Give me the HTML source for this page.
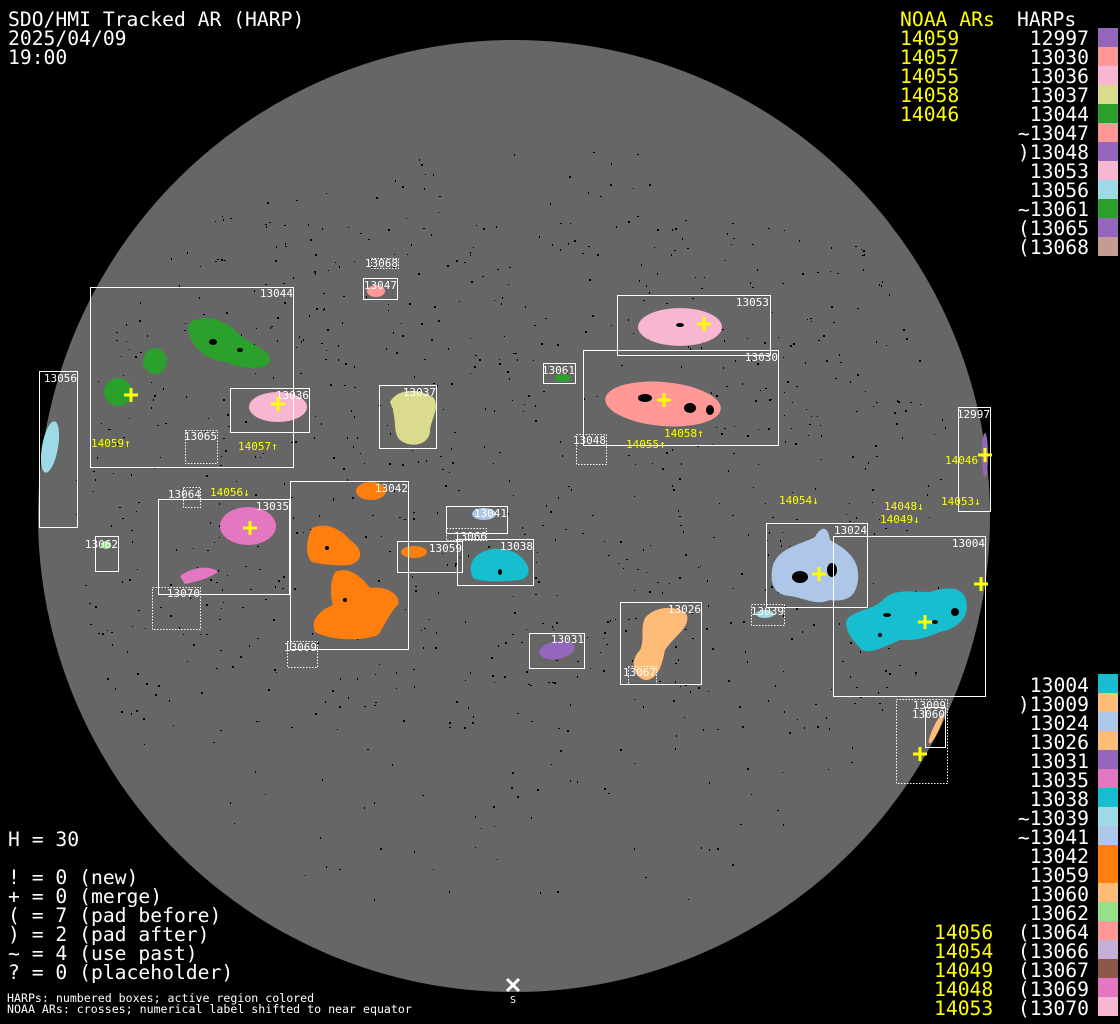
<!DOCTYPE html>
<html><head><meta charset="utf-8">
<style>
html,body{margin:0;padding:0;background:#000;}
body{width:1120px;height:1024px;overflow:hidden;position:relative;}
svg{position:absolute;left:0;top:0;}
.t{font-family:"DejaVu Sans Mono","Liberation Mono",monospace;}
</style></head><body>
<svg width="1120" height="1024" viewBox="0 0 1120 1024" xmlns="http://www.w3.org/2000/svg">
<rect width="1120" height="1024" fill="#000"/>
<circle cx="514" cy="516" r="476" fill="#666"/>
<g id="dots" fill="#000"></g>

<g stroke="none">
<path d="M188,325 C200,312 225,318 240,335 C255,348 272,350 270,362 C262,372 240,368 225,362 C205,360 188,345 188,325Z" fill="#2ca02c"/>
<ellipse cx="155" cy="361" rx="12" ry="13" fill="#2ca02c"/>
<ellipse cx="118" cy="392" rx="14" ry="14" fill="#2ca02c"/>
<ellipse cx="50" cy="447" rx="8" ry="26" fill="#9edae5" transform="rotate(10 50 447)"/>
<ellipse cx="278" cy="407" rx="29" ry="15" fill="#f7b6d2"/>
<path d="M390,402 C398,388 420,388 434,398 C440,410 430,420 430,432 C428,446 410,448 400,440 C392,432 398,420 390,402Z" fill="#dbdb8d"/>
<ellipse cx="376" cy="291" rx="9" ry="6" fill="#ff9896"/>
<ellipse cx="680" cy="327" rx="42" ry="19" fill="#f7b6d2"/>
<ellipse cx="663" cy="404" rx="58" ry="22" fill="#ff9896" transform="rotate(5 663 404)"/>
<ellipse cx="563" cy="378" rx="8" ry="4" fill="#2ca02c"/>
<ellipse cx="985" cy="455" rx="3" ry="22" fill="#9467bd"/>
<ellipse cx="248" cy="526" rx="28" ry="19" fill="#e377c2"/>
<path d="M180,576 C190,568 210,564 218,572 C210,578 196,582 185,584Z" fill="#e377c2"/>
<ellipse cx="371" cy="491" rx="15" ry="9" fill="#ff7f0e"/>
<path d="M312,528 C325,522 340,528 350,540 C362,548 365,560 350,565 C338,566 325,565 312,562 C305,556 306,540 312,528Z" fill="#ff7f0e"/>
<path d="M335,572 C348,566 360,575 370,588 C385,585 402,595 398,605 C390,612 385,625 378,635 C360,642 330,640 315,632 C310,620 320,610 333,605 C330,595 330,582 335,572Z" fill="#ff7f0e"/>
<ellipse cx="414" cy="552" rx="13" ry="6" fill="#ff7f0e"/>
<ellipse cx="484" cy="514" rx="12" ry="6" fill="#aec7e8"/>
<path d="M472,562 C480,545 510,545 522,558 C532,568 530,578 520,580 C500,582 480,582 473,578 C470,572 470,566 472,562Z" fill="#17becf"/>
<path d="M772,570 C775,548 800,545 815,537 C820,527 828,524 830,540 C848,550 860,560 858,580 C856,598 845,602 830,600 C815,606 805,598 790,596 C775,595 770,585 772,570Z" fill="#aec7e8"/>
<path d="M846,622 C850,610 870,612 883,600 C893,588 915,592 930,592 C945,587 962,585 966,600 C970,615 960,628 940,632 C920,640 915,640 900,640 C888,645 870,655 862,650 C852,640 846,632 846,622Z" fill="#17becf"/>
<ellipse cx="765" cy="614" rx="9" ry="4" fill="#9edae5"/>
<path d="M645,618 C655,605 680,605 687,615 C690,628 675,635 665,650 C662,665 658,680 645,680 C632,676 630,660 640,650 C645,640 640,628 645,618Z" fill="#ffbb78"/>
<ellipse cx="557" cy="650" rx="18" ry="9" fill="#9467bd" transform="rotate(-10 557 650)"/>
<ellipse cx="106" cy="545" rx="5" ry="4" fill="#98df8a"/>
<ellipse cx="936" cy="729" rx="3" ry="16" fill="#ffbb78" transform="rotate(25 936 729)"/>
</g>
<g fill="#000">
<ellipse cx="213" cy="342" rx="4" ry="3"/><ellipse cx="240" cy="350" rx="3" ry="2"/>
<ellipse cx="645" cy="398" rx="7" ry="4"/><ellipse cx="690" cy="408" rx="6" ry="5"/><ellipse cx="710" cy="410" rx="4" ry="5"/>
<ellipse cx="680" cy="325" rx="4" ry="2"/>
<ellipse cx="800" cy="577" rx="8" ry="6"/><ellipse cx="832" cy="570" rx="5" ry="7"/>
<ellipse cx="887" cy="615" rx="4" ry="2"/><ellipse cx="955" cy="612" rx="4" ry="4"/><ellipse cx="935" cy="622" rx="3" ry="2"/><ellipse cx="880" cy="635" rx="2" ry="2"/>
<ellipse cx="500" cy="572" rx="2" ry="3"/><ellipse cx="345" cy="600" rx="2" ry="2"/><ellipse cx="327" cy="548" rx="2" ry="2"/>
</g>

<g fill="none" stroke="#fff" stroke-width="1">
<rect x="90.5" y="287.5" width="203" height="180"/>
<rect x="39.5" y="371.5" width="38" height="156"/>
<rect x="230.5" y="388.5" width="79" height="44"/>
<rect x="379.5" y="385.5" width="57" height="63"/>
<rect x="363.5" y="278.5" width="34" height="21"/>
<rect x="617.5" y="295.5" width="153" height="60"/>
<rect x="583.5" y="350.5" width="195" height="95"/>
<rect x="543.5" y="363.5" width="32" height="20"/>
<rect x="958.5" y="407.5" width="32" height="104"/>
<rect x="158.5" y="499.5" width="131" height="95"/>
<rect x="290.5" y="481.5" width="118" height="168"/>
<rect x="446.5" y="506.5" width="61" height="27"/>
<rect x="397.5" y="541.5" width="65" height="31"/>
<rect x="457.5" y="539.5" width="76" height="46"/>
<rect x="766.5" y="523.5" width="101" height="84"/>
<rect x="833.5" y="536.5" width="152" height="160"/>
<rect x="95.5" y="536.5" width="23" height="35"/>
<rect x="620.5" y="602.5" width="81" height="82"/>
<rect x="529.5" y="633.5" width="55" height="35"/>
<rect x="925.5" y="707.5" width="20" height="40"/>
</g>
<g fill="none" stroke="#fff" stroke-width="1" stroke-dasharray="1.5,1.5">
<rect x="185.5" y="430.5" width="32" height="33"/>
<rect x="576.5" y="434.5" width="30" height="30"/>
<rect x="183.5" y="487.5" width="17" height="20"/>
<rect x="152.5" y="587.5" width="48" height="42"/>
<rect x="287.5" y="641.5" width="30" height="26"/>
<rect x="446.5" y="528.5" width="40" height="12"/>
<rect x="751.5" y="604.5" width="33" height="21"/>
<rect x="896.5" y="699.5" width="51" height="84"/>
<rect x="628.5" y="666.5" width="28" height="18"/>
<rect x="371.5" y="258.5" width="27" height="10"/>
</g>
<g class="t" fill="#fff" font-size="11" text-anchor="end">
<text x="293" y="297">13044</text><text x="77" y="382">13056</text><text x="309" y="399">13036</text>
<text x="436" y="396">13037</text><text x="397" y="289">13047</text><text x="398" y="267">13068</text>
<text x="769" y="306">13053</text><text x="778" y="361">13030</text><text x="575" y="374">13061</text>
<text x="990" y="418">12997</text><text x="217" y="440">13065</text><text x="606" y="444">13048</text>
<text x="201" y="498">13064</text><text x="289" y="510">13035</text><text x="408" y="492">13042</text>
<text x="507" y="517">13041</text><text x="487" y="540">13066</text><text x="462" y="552">13059</text>
<text x="533" y="550">13038</text><text x="867" y="534">13024</text><text x="985" y="547">13004</text>
<text x="118" y="548">13062</text><text x="200" y="597">13070</text><text x="317" y="651">13069</text>
<text x="784" y="615">13039</text><text x="701" y="613">13026</text><text x="584" y="643">13031</text>
<text x="656" y="676">13067</text><text x="946" y="709">13009</text><text x="945" y="718">13060</text>
</g>
<g stroke="#ff0" stroke-width="3">
<path d="M124,395h14M131,388v14"/><path d="M271,404h14M278,397v14"/><path d="M243,528h14M250,521v14"/>
<path d="M657,400h14M664,393v14"/><path d="M697,324h14M704,317v14"/><path d="M978,455h14M985,448v14"/>
<path d="M812,574h14M819,567v14"/><path d="M918,622h14M925,615v14"/><path d="M974,584h14M981,577v14"/>
<path d="M913,754h14M920,747v14"/>
</g>
<g class="t" fill="#ff0" font-size="11">
<text x="91" y="447">14059↑</text><text x="238" y="450">14057↑</text><text x="210" y="496">14056↓</text>
<text x="626" y="448">14055↑</text><text x="664" y="437">14058↑</text><text x="779" y="504">14054↓</text>
<text x="884" y="510">14048↓</text><text x="880" y="523">14049↓</text><text x="941" y="505">14053↓</text>
<text x="945" y="464">14046</text>
</g>
<path d="M507,979l12,12M519,979l-12,12" stroke="#fff" stroke-width="3"/>
<text class="t" x="513" y="1003" fill="#fff" font-size="10" text-anchor="middle">S</text>

<g class="t" fill="#fff" font-size="19.7">
<text x="8" y="26">SDO/HMI Tracked AR (HARP)</text>
<text x="8" y="45">2025/04/09</text>
<text x="8" y="64">19:00</text>
<text x="8" y="846">H = 30</text>
<text x="8" y="884">! = 0 (new)</text>
<text x="8" y="903">+ = 0 (merge)</text>
<text x="8" y="922">( = 7 (pad before)</text>
<text x="8" y="941">) = 2 (pad after)</text>
<text x="8" y="960">~ = 4 (use past)</text>
<text x="8" y="979">? = 0 (placeholder)</text>
</g>
<g class="t" fill="#fff" font-size="11.6">
<text x="7" y="1002">HARPs: numbered boxes; active region colored</text>
<text x="7" y="1013">NOAA ARs: crosses; numerical label shifted to near equator</text>
</g>

<g class="t" font-size="19.7">
<text x="900" y="26" fill="#ff0">NOAA ARs</text>
<text x="1017" y="26" fill="#fff">HARPs</text>
<g fill="#ff0">
<text x="900" y="45">14059</text><text x="900" y="64">14057</text><text x="900" y="83">14055</text><text x="900" y="102">14058</text><text x="900" y="121">14046</text>
</g>
<g fill="#fff" text-anchor="end">
<text x="1089" y="45">12997</text><text x="1089" y="64">13030</text><text x="1089" y="83">13036</text><text x="1089" y="102">13037</text>
<text x="1089" y="121">13044</text><text x="1089" y="140">~13047</text><text x="1089" y="159">)13048</text><text x="1089" y="178">13053</text>
<text x="1089" y="197">13056</text><text x="1089" y="216">~13061</text><text x="1089" y="235">(13065</text><text x="1089" y="254">(13068</text>
</g>
</g>
<g>
<rect x="1098" y="28" width="20" height="19" fill="#9467bd"/><rect x="1098" y="47" width="20" height="19" fill="#ff9896"/>
<rect x="1098" y="66" width="20" height="19" fill="#f7b6d2"/><rect x="1098" y="85" width="20" height="19" fill="#dbdb8d"/>
<rect x="1098" y="104" width="20" height="19" fill="#2ca02c"/><rect x="1098" y="123" width="20" height="19" fill="#ff9896"/>
<rect x="1098" y="142" width="20" height="19" fill="#9467bd"/><rect x="1098" y="161" width="20" height="19" fill="#f7b6d2"/>
<rect x="1098" y="180" width="20" height="19" fill="#9edae5"/><rect x="1098" y="199" width="20" height="19" fill="#2ca02c"/>
<rect x="1098" y="218" width="20" height="19" fill="#9467bd"/><rect x="1098" y="237" width="20" height="19" fill="#c49c94"/>
</g>

<g class="t" font-size="19.7">
<g fill="#fff" text-anchor="end">
<text x="1089" y="692">13004</text><text x="1089" y="711">)13009</text><text x="1089" y="730">13024</text><text x="1089" y="749">13026</text>
<text x="1089" y="768">13031</text><text x="1089" y="787">13035</text><text x="1089" y="806">13038</text><text x="1089" y="825">~13039</text>
<text x="1089" y="844">~13041</text><text x="1089" y="863">13042</text><text x="1089" y="882">13059</text><text x="1089" y="901">13060</text>
<text x="1089" y="920">13062</text><text x="1089" y="939">(13064</text><text x="1089" y="958">(13066</text><text x="1089" y="977">(13067</text>
<text x="1089" y="996">(13069</text><text x="1089" y="1015">(13070</text>
</g>
<g fill="#ff0">
<text x="934" y="939">14056</text><text x="934" y="958">14054</text><text x="934" y="977">14049</text><text x="934" y="996">14048</text><text x="934" y="1015">14053</text>
</g>
</g>
<g>
<rect x="1098" y="674" width="20" height="19" fill="#17becf"/><rect x="1098" y="693" width="20" height="19" fill="#ffbb78"/>
<rect x="1098" y="712" width="20" height="19" fill="#aec7e8"/><rect x="1098" y="731" width="20" height="19" fill="#ffbb78"/>
<rect x="1098" y="750" width="20" height="19" fill="#9467bd"/><rect x="1098" y="769" width="20" height="19" fill="#e377c2"/>
<rect x="1098" y="788" width="20" height="19" fill="#17becf"/><rect x="1098" y="807" width="20" height="19" fill="#9edae5"/>
<rect x="1098" y="826" width="20" height="19" fill="#aec7e8"/><rect x="1098" y="845" width="20" height="19" fill="#ff7f0e"/>
<rect x="1098" y="864" width="20" height="19" fill="#ff7f0e"/><rect x="1098" y="883" width="20" height="19" fill="#ffbb78"/>
<rect x="1098" y="902" width="20" height="19" fill="#98df8a"/><rect x="1098" y="921" width="20" height="19" fill="#ff9896"/>
<rect x="1098" y="940" width="20" height="19" fill="#c5b0d5"/><rect x="1098" y="959" width="20" height="19" fill="#8c564b"/>
<rect x="1098" y="978" width="20" height="19" fill="#e377c2"/><rect x="1098" y="997" width="20" height="19" fill="#f7b6d2"/>
</g>
</svg>
<script>
(function(){
var g=document.getElementById('dots');var s=12345;function r(){s=(s*16807)%2147483647;return s/2147483647;}
var out='';
for(var i=0;i<1400;i++){
 var x=60+r()*920, y=150+r()*750;
 var dx=x-514, dy=y-516; if(dx*dx+dy*dy>440*440)continue;
 var band=Math.abs(y-470); if(band>260 && r()<0.75)continue;
 var w=1+Math.floor(r()*2), h=1+Math.floor(r()*2);
 out+='<rect x="'+x.toFixed(0)+'" y="'+y.toFixed(0)+'" width="'+w+'" height="'+h+'"/>';
}
g.innerHTML=out;
})();
</script>
</body></html>
